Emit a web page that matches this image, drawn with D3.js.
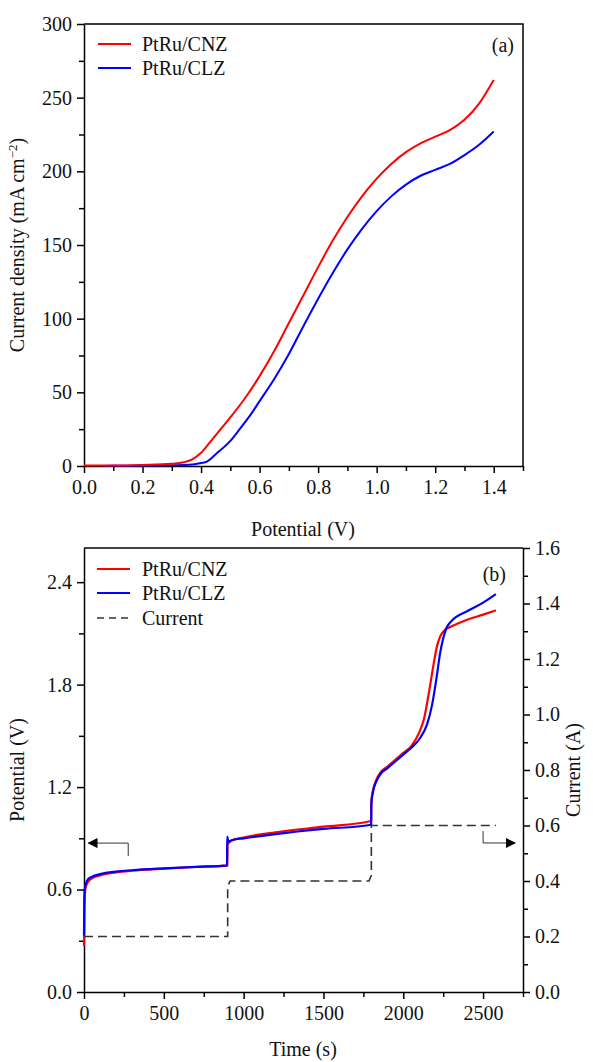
<!DOCTYPE html>
<html>
<head>
<meta charset="utf-8">
<style>
  body { margin: 0; background: #fff; }
  text { font-family: "Liberation Serif", "Times New Roman", serif; }
</style>
</head>
<body>
<script src="https://cdn.jsdelivr.net/npm/d3@7"></script>
<script>
// ---- data: (a) polarization curves ----
var potA = [0, 0.1, 0.2, 0.3, 0.34, 0.37, 0.4, 0.43, 0.467, 0.5, 0.55, 0.6, 0.65, 0.7, 0.75, 0.8, 0.85, 0.9, 0.95, 1.0, 1.05, 1.1, 1.15, 1.2, 1.25, 1.3, 1.35, 1.4];
var cnzA = [0.3, 0.3, 0.7, 1.5, 2.5, 4.5, 9, 16, 25, 33, 46, 61, 78, 97, 116, 135, 153, 169, 183, 195, 205, 213, 219, 223.5, 228, 235, 246, 262];
var potB = [0.07, 0.1, 0.2, 0.3, 0.36, 0.4, 0.42, 0.45, 0.5, 0.532, 0.57, 0.6, 0.65, 0.7, 0.75, 0.8, 0.85, 0.9, 0.95, 1.0, 1.05, 1.1, 1.15, 1.2, 1.25, 1.3, 1.35, 1.4];
var clzA = [0, 0.2, 0.3, 0.5, 0.8, 2, 3, 8, 17, 25, 35, 44, 59, 76, 95, 113.5, 131, 147, 161, 173, 183, 191, 197, 201, 205, 211, 218, 227];

// ---- data: (b) galvanostatic test ----
var timeR = [0, 2, 5, 10, 25, 50, 100, 200, 300, 500, 700, 898, 899, 920, 1000, 1200, 1500, 1790, 1799, 1800, 1810, 1830, 1860, 1900, 1950, 2000, 2050, 2100, 2130, 2160, 2190, 2210, 2230, 2260, 2300, 2400, 2500, 2580];
var cnzB  = [0.27, 0.5, 0.57, 0.61, 0.645, 0.665, 0.683, 0.70, 0.71, 0.722, 0.732, 0.742, 0.86, 0.885, 0.905, 0.935, 0.968, 1.0, 1.005, 1.12, 1.18, 1.24, 1.29, 1.32, 1.36, 1.40, 1.44, 1.52, 1.60, 1.75, 1.92, 2.02, 2.08, 2.12, 2.14, 2.18, 2.21, 2.235];
var timeB = [0, 2, 5, 10, 25, 50, 100, 200, 300, 500, 700, 896, 897, 905, 930, 1000, 1200, 1500, 1790, 1799, 1800, 1810, 1830, 1860, 1900, 1950, 2000, 2050, 2100, 2150, 2180, 2210, 2230, 2250, 2270, 2300, 2400, 2500, 2580];
var clzB  = [0.33, 0.53, 0.6, 0.63, 0.66, 0.675, 0.69, 0.705, 0.713, 0.724, 0.733, 0.74, 0.91, 0.88, 0.89, 0.9, 0.925, 0.955, 0.978, 0.98, 1.1, 1.17, 1.23, 1.28, 1.31, 1.35, 1.39, 1.43, 1.48, 1.57, 1.68, 1.85, 1.98, 2.07, 2.13, 2.17, 2.23, 2.28, 2.33];
var timeI = [0, 900, 900, 915, 1785, 1800, 1800, 2580];
var currI = [0.2, 0.2, 0.38, 0.4, 0.4, 0.42, 0.6, 0.6];

var ticksA_x = [0, 0.2, 0.4, 0.6, 0.8, 1.0, 1.2, 1.4];
var ticksA_y = [0, 50, 100, 150, 200, 250, 300];
var ticksB_x = [0, 500, 1000, 1500, 2000, 2500];
var ticksB_y = [0, 0.6, 1.2, 1.8, 2.4];
var ticksB_y2 = [0, 0.2, 0.4, 0.6, 0.8, 1.0, 1.2, 1.4, 1.6];

var W = 593, H = 1062, FS = "20px";
var svg = d3.select("body").append("svg").attr("width", W).attr("height", H);

function zip(xs, ys) { return xs.map(function(x, i) { return [x, ys[i]]; }); }

function styleAxis(g) {
  g.selectAll("path").attr("stroke", "#000").attr("stroke-width", 1.5);
  g.selectAll("line").attr("stroke", "#000").attr("stroke-width", 1.5);
  g.selectAll("text").style("font-size", FS).attr("fill", "#111");
}
function minor(g) {
  g.select(".domain").remove();
  g.selectAll("text").remove();
  g.selectAll("line").attr("stroke", "#000").attr("stroke-width", 1.5);
}

// *** PANEL (a) ***
var xA = d3.scaleLinear().domain([0, 1.5]).range([84, 523]);
var yA = d3.scaleLinear().domain([0, 300]).range([466, 24]);

svg.append("g").attr("transform", "translate(0,466)")
  .call(d3.axisBottom(xA).tickValues(d3.range(0.1, 1.55, 0.2)).tickSize(5).tickFormat(""))
  .call(minor);
svg.append("g").attr("transform", "translate(84,0)")
  .call(d3.axisLeft(yA).tickValues(d3.range(25, 300, 50)).tickSize(5).tickFormat(""))
  .call(minor);
svg.append("g").attr("transform", "translate(0,466)")
  .call(d3.axisBottom(xA).tickValues(ticksA_x).tickSize(7).tickPadding(7).tickSizeOuter(0).tickFormat(d3.format(".1f")))
  .call(styleAxis);
svg.append("g").attr("transform", "translate(84,0)")
  .call(d3.axisLeft(yA).tickValues(ticksA_y).tickSize(7).tickPadding(5).tickSizeOuter(0))
  .call(styleAxis);
svg.append("path")
  .attr("d", "M84,24H523V466")
  .attr("fill", "none").attr("stroke", "#000").attr("stroke-width", 1.5);

var lineA = d3.line().x(function(d) { return xA(d[0]); }).y(function(d) { return yA(d[1]); })
  .curve(d3.curveMonotoneX);
svg.append("path").datum(zip(potB, clzA)).attr("d", lineA)
  .attr("fill", "none").attr("stroke", "#0000ff").attr("stroke-width", 2);
svg.append("path").datum(zip(potA, cnzA)).attr("d", lineA)
  .attr("fill", "none").attr("stroke", "#ff0000").attr("stroke-width", 2);

// legend (a)
[["PtRu/CNZ", "#ff0000", 44], ["PtRu/CLZ", "#0000ff", 68]].forEach(function(l) {
  svg.append("line").attr("x1", 98).attr("x2", 131).attr("y1", l[2]).attr("y2", l[2])
    .attr("stroke", l[1]).attr("stroke-width", 2);
  svg.append("text").attr("x", 142).attr("y", l[2] + 7).style("font-size", FS).attr("fill", "#111").text(l[0]);
});
svg.append("text").attr("x", 514).attr("y", 52).attr("text-anchor", "end").style("font-size", FS).attr("fill", "#111").text("(a)");

svg.append("text").attr("x", 303).attr("y", 536).attr("text-anchor", "middle").style("font-size", FS).attr("fill", "#111")
  .text("Potential (V)");
var tA = svg.append("text").attr("transform", "translate(24,245) rotate(-90)").attr("text-anchor", "middle")
  .style("font-size", FS).attr("fill", "#111");
tA.append("tspan").text("Current density (mA cm");
tA.append("tspan").attr("dy", -7).style("font-size", "13px").text("\u22122");
tA.append("tspan").attr("dy", 7).text(")");

// *** PANEL (b) ***
var xB = d3.scaleLinear().domain([0, 2750]).range([84, 523]);
var yB = d3.scaleLinear().domain([0, 2.6]).range([992, 548]);
var yB2 = d3.scaleLinear().domain([0, 1.6]).range([992, 548]);

svg.append("g").attr("transform", "translate(0,992)")
  .call(d3.axisBottom(xB).tickValues(d3.range(250, 2800, 500)).tickSize(5).tickFormat(""))
  .call(minor);
svg.append("g").attr("transform", "translate(84,0)")
  .call(d3.axisLeft(yB).tickValues(d3.range(0.3, 2.6, 0.6)).tickSize(5).tickFormat(""))
  .call(minor);
svg.append("g").attr("transform", "translate(523,0)")
  .call(d3.axisRight(yB2).tickValues(d3.range(0.1, 1.6, 0.2)).tickSize(5).tickFormat(""))
  .call(minor);
svg.append("g").attr("transform", "translate(0,992)")
  .call(d3.axisBottom(xB).tickValues(ticksB_x).tickSize(7).tickPadding(7).tickSizeOuter(0).tickFormat(d3.format("d")))
  .call(styleAxis);
svg.append("g").attr("transform", "translate(84,0)")
  .call(d3.axisLeft(yB).tickValues(ticksB_y).tickSize(7).tickPadding(5).tickSizeOuter(0).tickFormat(d3.format(".1f")))
  .call(styleAxis);
svg.append("g").attr("transform", "translate(523,0)")
  .call(d3.axisRight(yB2).tickValues(ticksB_y2).tickSize(7).tickPadding(5).tickSizeOuter(0).tickFormat(d3.format(".1f")))
  .call(styleAxis);
svg.append("line").attr("x1", 84).attr("x2", 523).attr("y1", 548).attr("y2", 548)
  .attr("stroke", "#000").attr("stroke-width", 1.5);

var lineB = d3.line().x(function(d) { return xB(d[0]); }).y(function(d) { return yB(d[1]); })
  .curve(d3.curveMonotoneX);
svg.append("path").datum(zip(timeR, cnzB)).attr("d", lineB)
  .attr("fill", "none").attr("stroke", "#ff0000").attr("stroke-width", 2.2);
svg.append("path").datum(zip(timeB, clzB)).attr("d", lineB)
  .attr("fill", "none").attr("stroke", "#0000ff").attr("stroke-width", 2.2);

var lineI = d3.line().x(function(d) { return xB(d[0]); }).y(function(d) { return yB2(d[1]); });
svg.append("path").datum(zip(timeI, currI)).attr("d", lineI)
  .attr("fill", "none").attr("stroke", "#333").attr("stroke-width", 1.6).attr("stroke-dasharray", "9,5");

// arrows
var defs = svg.append("defs");
defs.append("marker").attr("id", "ah").attr("viewBox", "0 0 10 10").attr("refX", 9).attr("refY", 5)
  .attr("markerWidth", 12).attr("markerHeight", 10).attr("markerUnits", "userSpaceOnUse").attr("orient", "auto")
  .append("path").attr("d", "M0,0L10,5L0,10Z").attr("fill", "#000");
var arrowL = [[277, 0.796], [277, 0.872], [28, 0.872]];
svg.append("path").attr("d", d3.line().x(function(d) { return xB(d[0]); }).y(function(d) { return yB(d[1]); })(arrowL))
  .attr("fill", "none").attr("stroke", "#333").attr("stroke-width", 1).attr("marker-end", "url(#ah)");
var arrowR = [[2500, 0.58], [2500, 0.537], [2700, 0.537]];
svg.append("path").attr("d", lineI(arrowR))
  .attr("fill", "none").attr("stroke", "#333").attr("stroke-width", 1).attr("marker-end", "url(#ah)");

// legend (b)
[["PtRu/CNZ", "#ff0000", 569, null], ["PtRu/CLZ", "#0000ff", 593, null], ["Current", "#333", 618, "7,5"]].forEach(function(l) {
  var ln = svg.append("line").attr("x1", 97).attr("x2", 130).attr("y1", l[2]).attr("y2", l[2])
    .attr("stroke", l[1]).attr("stroke-width", l[3] ? 1.6 : 2);
  if (l[3]) ln.attr("stroke-dasharray", l[3]);
  svg.append("text").attr("x", 142).attr("y", l[2] + 7).style("font-size", FS).attr("fill", "#111").text(l[0]);
});
svg.append("text").attr("x", 506).attr("y", 581).attr("text-anchor", "end").style("font-size", FS).attr("fill", "#111").text("(b)");

svg.append("text").attr("x", 303).attr("y", 1056).attr("text-anchor", "middle").style("font-size", FS).attr("fill", "#111")
  .text("Time (s)");
svg.append("text").attr("transform", "translate(24,770) rotate(-90)").attr("text-anchor", "middle")
  .style("font-size", FS).attr("fill", "#111").text("Potential (V)");
svg.append("text").attr("transform", "translate(580,770) rotate(-90)").attr("text-anchor", "middle")
  .style("font-size", FS).attr("fill", "#111").text("Current (A)");
</script>
</body>
</html>
